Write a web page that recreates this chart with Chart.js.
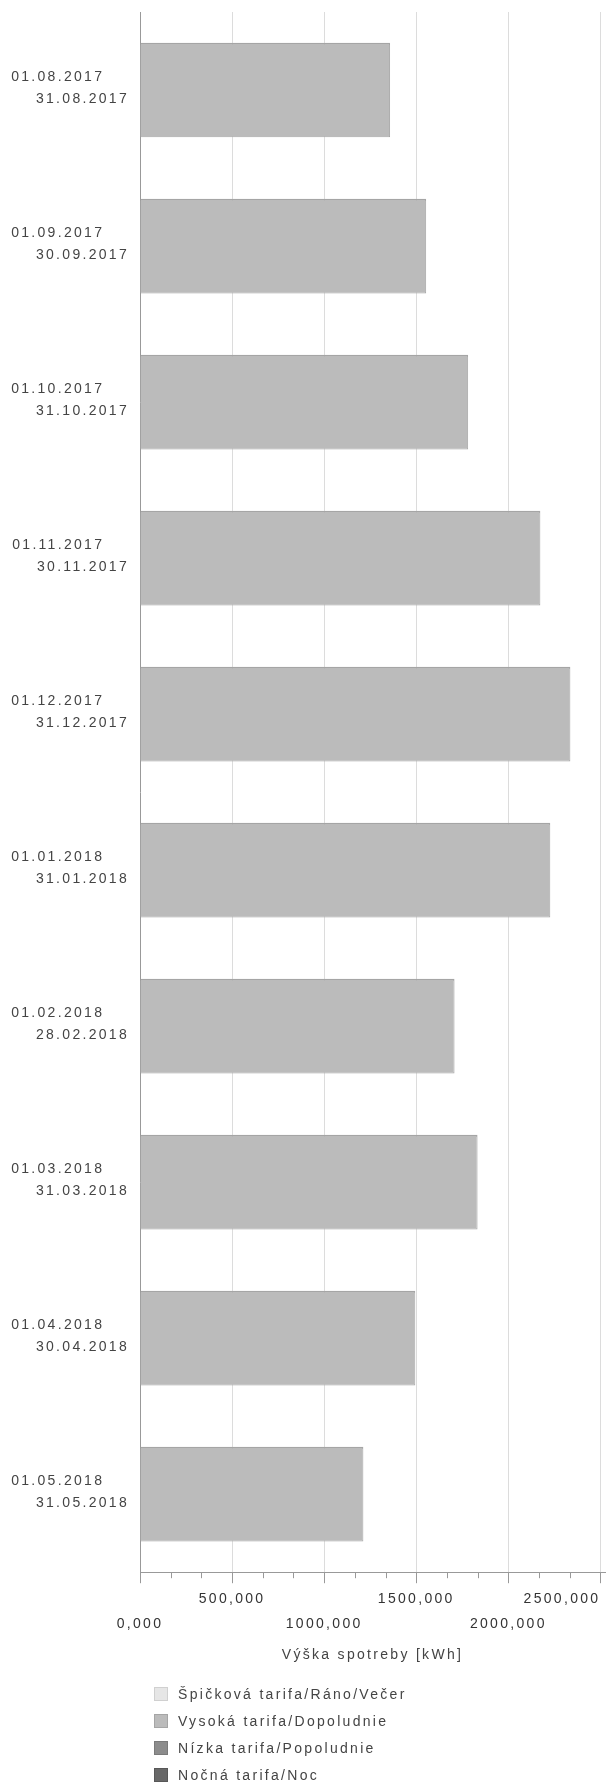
<!DOCTYPE html>
<html>
<head>
<meta charset="utf-8">
<script src="https://cdn.jsdelivr.net/npm/chart.js@4.4.1/dist/chart.umd.min.js"></script>
<style>
    body { margin: 0; background: #fff; }
    #wrap { position: relative; width: 608px; height: 1787px; }
    #consumption { position: absolute; left: 0; top: 0; }
    #legend {
        position: absolute; left: 154px; top: 1680px;
        margin: 0; padding: 0; list-style: none;
        font: 14px "Liberation Sans", Arial, sans-serif;
        letter-spacing: 2.3px; color: #444;
    }
    #legend li { height: 27px; display: flex; align-items: center; white-space: nowrap; }
    #legend .swatch { width: 12px; height: 12px; border: 1px solid; margin-right: 10px; }
</style>
</head>
<body>
<div id="wrap">
    <canvas id="consumption" width="608" height="1787"></canvas>
    <ul id="legend"></ul>
</div>
<script>
const periodFrom = ['01.08.2017', '01.09.2017', '01.10.2017', '01.11.2017', '01.12.2017',
                    '01.01.2018', '01.02.2018', '01.03.2018', '01.04.2018', '01.05.2018'];
const periodTo = ['31.08.2017', '30.09.2017', '31.10.2017', '30.11.2017', '31.12.2017',
                  '31.01.2018', '28.02.2018', '31.03.2018', '30.04.2018', '31.05.2018'];

// kWh per period, only the "Vysoká tarifa" series has values
const peak = [];
const high = [1358000, 1554000, 1782000, 2174000, 2337000, 2228000, 1708000, 1833000, 1495000, 1213000];
const low = [];
const night = [];

const xTicks = [0, 500000, 1000000, 1500000, 2000000, 2500000];
const xTickLabels = ['0,000', '500,000', '1000,000', '1500,000', '2000,000', '2500,000'];

const tariffs = ['Špičková tarifa/Ráno/Večer', 'Vysoká tarifa/Dopoludnie', 'Nízka tarifa/Popoludnie', 'Nočná tarifa/Noc'];

Chart.defaults.font.family = '"Liberation Sans", Arial, sans-serif';
Chart.defaults.font.size = 14;

// wide letter spacing like the original renderer
const spacing = {
    id: 'spacing',
    beforeUpdate(chart) { chart.ctx.letterSpacing = '2.3px'; },
    beforeDraw(chart) { chart.ctx.letterSpacing = '2.3px'; }
};

// small ticks between the labelled ones
const minorTicks = {
    id: 'minorTicks',
    afterDraw(chart) {
        const x = chart.scales.x;
        const ctx = chart.ctx;
        ctx.save();
        ctx.strokeStyle = '#999';
        ctx.lineWidth = 1;
        ctx.beginPath();
        for (let i = 0; i < xTicks.length - 1; i++) {
            const step = (xTicks[i + 1] - xTicks[i]) / 3;
            for (let k = 1; k < 3; k++) {
                const px = Math.round(x.getPixelForValue(xTicks[i] + k * step)) + 0.5;
                ctx.moveTo(px, x.top);
                ctx.lineTo(px, x.top + 6);
            }
        }
        ctx.stroke();
        ctx.restore();
    }
};

const chart = new Chart("consumption", {
    type: "bar",
    data: {
        labels: periodFrom.map((d, i) => [d + '    ', periodTo[i]]),
        datasets: [
            { label: tariffs[0], data: peak, backgroundColor: '#e6e6e6', borderColor: '#d0d0d0' },
            { label: tariffs[1], data: high, backgroundColor: '#bbbbbb', borderColor: '#a5a5a5',
              borderWidth: { top: 2, right: 1, bottom: 1, left: 0 } },
            { label: tariffs[2], data: low, backgroundColor: '#8c8c8c', borderColor: '#7a7a7a' },
            { label: tariffs[3], data: night, backgroundColor: '#686868', borderColor: '#585858' }
        ]
    },
    options: {
        indexAxis: 'y',
        responsive: false,
        animation: false,
        devicePixelRatio: 1,
        categoryPercentage: 1,
        barPercentage: 0.607,
        layout: { padding: { top: 12, right: 3, bottom: 123, left: 0 } },
        plugins: {
            legend: { display: false },
            tooltip: { enabled: false }
        },
        scales: {
            x: {
                stacked: true,
                min: 0,
                max: 2525000,
                afterBuildTicks: (scale) => {
                    scale.ticks = [xTicks[0]].concat(xTicks).map(v => ({ value: v }));
                },
                afterFit: (scale) => {
                    scale.paddingLeft = 0;
                    scale.paddingRight = 0;
                },
                grid: {
                    color: (c) => c.index <= 1 ? 'rgba(0,0,0,0)' : '#dcdcdc',
                    tickColor: (c) => c.index === 0 ? 'rgba(0,0,0,0)' : '#999',
                    tickLength: 11
                },
                border: { color: '#999' },
                ticks: {
                    align: 'inner',
                    autoSkip: false,
                    maxRotation: 0,
                    minRotation: 0,
                    padding: 3.5,
                    color: '#333',
                    font: { size: 14, lineHeight: '25px' },
                    callback: function (value, index) {
                        if (index === 0) return '';
                        const i = index - 1;
                        return i % 2 === 0 ? ['', xTickLabels[i]] : xTickLabels[i];
                    }
                },
                title: {
                    display: true,
                    text: 'Výška spotreby [kWh]',
                    color: '#444',
                    font: { size: 14 },
                    padding: { top: 7, bottom: 0 }
                }
            },
            y: {
                stacked: true,
                afterFit: (scale) => {
                    scale.width = 140;
                    scale.paddingTop = 0;
                    scale.paddingBottom = 0;
                },
                grid: { drawOnChartArea: false, drawTicks: false },
                border: { color: '#999' },
                ticks: {
                    autoSkip: false,
                    padding: 11,
                    labelOffset: -2,
                    color: '#444',
                    font: { size: 14, lineHeight: '22px' }
                }
            }
        }
    },
    plugins: [spacing, minorTicks]
});

// legend list under the axis title
const legendEl = document.getElementById('legend');
chart.data.datasets.forEach(ds => {
    const li = document.createElement('li');
    const box = document.createElement('span');
    box.className = 'swatch';
    box.style.background = ds.backgroundColor;
    box.style.borderColor = ds.borderColor;
    li.appendChild(box);
    li.appendChild(document.createTextNode(ds.label));
    legendEl.appendChild(li);
});
</script>
</body>
</html>
